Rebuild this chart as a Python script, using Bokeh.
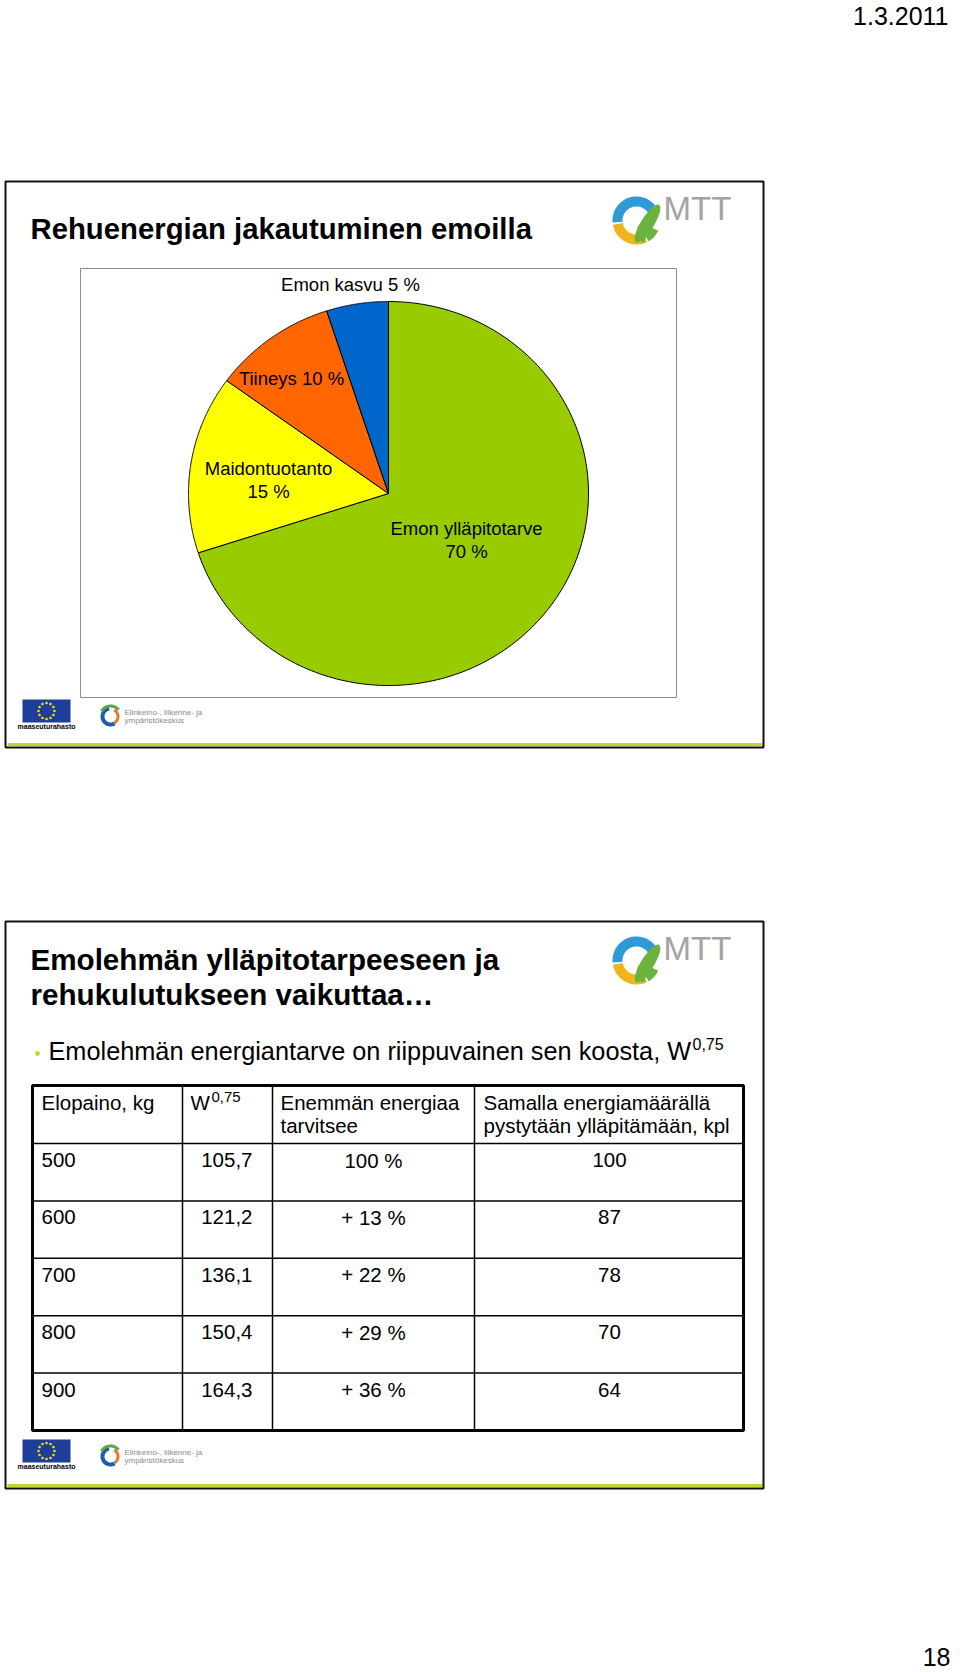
import numpy as np
from bokeh.plotting import figure
from bokeh.models import Range1d
from bokeh.core.properties import value
from bokeh.embed import file_html
from bokeh.resources import INLINE

# ---------------- data ----------------
pie_labels = ["Emon ylläpitotarve", "Maidontuotanto", "Tiineys", "Emon kasvu"]
pie_values = [70, 15, 10, 5]
pie_colors = ["#99CC00", "#FFFF00", "#FF6600", "#0066CC"]

header_line1 = ["Elopaino, kg", "W", "Enemmän energiaa", "Samalla energiamäärällä"]
header_line2 = ["", "", "tarvitsee", "pystytään ylläpitämään, kpl"]
weights = [500, 600, 700, 800, 900]
w075 = ["105,7", "121,2", "136,1", "150,4", "164,3"]
more_energy = ["100 %", "+ 13 %", "+ 22 %", "+ 29 %", "+ 36 %"]
cows_kept = [100, 87, 78, 70, 64]

title1 = "Rehuenergian jakautuminen emoilla"
title2 = ["Emolehmän ylläpitotarpeeseen  ja", "rehukulutukseen vaikuttaa…"]
bullet = "Emolehmän energiantarve on riippuvainen sen koosta, W"
date_txt = "1.3.2011"
page_no = "18"

# ---------------- layout ----------------
FONT = "Liberation Sans"
W, H = 960, 1672
LIME = "#C5D52E"

p = figure(width=W, height=H, x_range=Range1d(0, W), y_range=Range1d(H, 0),
           output_backend="svg", toolbar_location=None, x_axis_type=None, y_axis_type=None,
           min_border=0, min_border_left=0, min_border_right=0, min_border_top=0,
           min_border_bottom=0, outline_line_color=None)
p.background_fill_color = "white"
p.border_fill_color = "white"


def txt(x, y, s, size, align="left", bold=False, color="black"):
    p.text(x=[x], y=[y], text=[s], text_font=value(FONT), text_font_size=f"{size}px",
           text_align=align, text_baseline="middle", text_color=color,
           text_font_style="bold" if bold else "normal")


def arc_poly(cx, cy, r_out, r_in, a0, a1, n=40):
    t = np.radians(np.linspace(a0, a1, n))
    xo = cx + r_out * np.cos(t)
    yo = cy - r_out * np.sin(t)
    xi = cx + r_in * np.cos(t[::-1])
    yi = cy - r_in * np.sin(t[::-1])
    return list(np.concatenate([xo, xi])), list(np.concatenate([yo, yi]))


def ellipse_poly(cx, cy, a, b, phi, n=40):
    t = np.linspace(0, 2 * np.pi, n)
    f = np.radians(phi)
    x = cx + a * np.cos(t) * np.cos(f) - b * np.sin(t) * np.sin(f)
    y = cy - (a * np.cos(t) * np.sin(f) + b * np.sin(t) * np.cos(f))
    return list(x), list(y)


def mtt_logo(cx, cy):
    xs, ys, cs = [], [], []
    for a0, a1, c in [(25, 185, "#2E9AD8"), (190, 296, "#F2B41E"), (300, 335, "#6BB33E")]:
        x, y = arc_poly(cx, cy, 24, 14, a0, a1)
        xs.append(x); ys.append(y); cs.append(c)
    x, y = ellipse_poly(cx + 11, cy + 3, 22, 6.5, 58)
    xs.append(x); ys.append(y); cs.append("#6BB33E")
    x, y = ellipse_poly(cx + 5, cy + 13, 9, 4, 100)
    xs.append(x); ys.append(y); cs.append("#6BB33E")
    p.patches(xs, ys, fill_color=cs, line_color=None)
    txt(cx + 27, cy - 12, "MTT", 33, color="#A3A3A3")


def footer_logos(oy):
    p.quad(left=[22], right=[70], top=[oy], bottom=[oy + 23], fill_color="#1D3F98", line_color=None)
    t = np.radians(np.arange(12) * 30)
    p.scatter(x=46 + 8 * np.cos(t), y=oy + 11.5 - 8 * np.sin(t), size=2.5, marker="asterisk",
              line_color="#FFDD00", line_width=1)
    txt(46, oy + 27, "maaseuturahasto", 7, align="center", bold=True)
    xs, ys, cs = [], [], []
    for r_o, r_i, a0, a1, c in [(10, 6, 100, 300, "#1C5FA6"), (9, 6, -60, 60, "#E8782A"),
                                (12, 9, 40, 150, "#5BA845")]:
        x, y = arc_poly(110, oy + 17, r_o, r_i, a0, a1)
        xs.append(x); ys.append(y); cs.append(c)
    p.patches(xs, ys, fill_color=cs, line_color=None)
    txt(124, oy + 13, "Elinkeino-, liikenne- ja", 8, color="#8A8A8A")
    txt(124, oy + 21, "ympäristökeskus", 8, color="#8A8A8A")


def slide_frame(top, bottom):
    p.segment(x0=[7], y0=[bottom - 3], x1=[762], y1=[bottom - 3], line_color=LIME, line_width=3)
    p.quad(left=[5], right=[763], top=[top], bottom=[bottom], fill_color=None,
           line_color="#111111", line_width=2)


# ---------------- page header / footer ----------------
txt(948, 15, date_txt, 25, align="right")
txt(950, 1656, page_no, 25, align="right")

# ---------------- slide 1 ----------------
slide_frame(181, 747)
txt(30, 228, title1, 29.3, bold=True)
mtt_logo(636, 220)
footer_logos(699)

# chart area
p.quad(left=[80], right=[676], top=[268], bottom=[697], fill_color="white",
       line_color="#8C8C8C", line_width=1)

cx, cy, rx, ry = 388, 493, 200, 192
vals = np.array(pie_values, dtype=float)
frac = vals / vals.sum()
cum = np.concatenate([[0], np.cumsum(frac)])
xs, ys = [], []
for i in range(len(vals)):
    a0 = 90 - 360 * cum[i]
    a1 = 90 - 360 * cum[i + 1]
    t = np.radians(np.linspace(a0, a1, 200))
    xs.append([cx] + list(cx + rx * np.cos(t)))
    ys.append([cy] + list(cy - ry * np.sin(t)))
p.patches(xs, ys, fill_color=pie_colors, line_color="black", line_width=1)

# label anchors (offset from pie centre) and whether the value goes on a 2nd line
label_layout = [(78, 35, True), (-120, -25, True), (-97, -115, False), (-38, -209, False)]
for name, v, (dx, dy, two) in zip(pie_labels, pie_values, label_layout):
    if two:
        txt(cx + dx, cy + dy, name, 18.5, align="center")
        txt(cx + dx, cy + dy + 23, f"{v} %", 18.5, align="center")
    else:
        txt(cx + dx, cy + dy, f"{name} {v} %", 18.5, align="center")

# ---------------- slide 2 ----------------
slide_frame(921, 1488)
txt(30, 959, title2[0], 29.6, bold=True)
txt(30, 994, title2[1], 29.6, bold=True)
mtt_logo(636, 960)
footer_logos(1439)

p.scatter(x=[37], y=[1053], size=4, color=LIME)
txt(48, 1050, bullet, 25.3)
txt(692, 1043, "0,75", 16)

# table
col_x = [32, 182, 272, 474, 743]
t_top, h_bot, t_bot = 1085, 1143, 1430
n = len(weights)
row_h = (t_bot - h_bot) / n
row_tops = [h_bot + i * row_h for i in range(n)]

p.segment(x0=col_x[1:-1], y0=[t_top] * 3, x1=col_x[1:-1], y1=[t_bot] * 3,
          line_color="black", line_width=1.5)
p.segment(x0=[col_x[0]] * n, y0=row_tops, x1=[col_x[-1]] * n, y1=row_tops,
          line_color="black", line_width=1.5)
p.quad(left=[col_x[0]], right=[col_x[-1]], top=[t_top], bottom=[t_bot], fill_color=None,
       line_color="black", line_width=3)

FS = 20.5
hx = [41, 190, 280, 483]
for i in range(4):
    txt(hx[i], 1102, header_line1[i], FS)
    if header_line2[i]:
        txt(hx[i], 1125, header_line2[i], FS)
txt(211, 1096, "0,75", 15)

ys_rows = [rt + 16.5 for rt in row_tops]
p.text(x=[41] * n, y=ys_rows, text=[str(w) for w in weights], text_font=value(FONT),
       text_font_size=f"{FS}px", text_baseline="middle", text_align="left")
p.text(x=[252] * n, y=ys_rows, text=w075, text_font=value(FONT),
       text_font_size=f"{FS}px", text_baseline="middle", text_align="right")
p.text(x=[373] * n, y=ys_rows, text=more_energy, text_font=value(FONT),
       text_font_size=f"{FS}px", text_baseline="middle", text_align="center")
p.text(x=[609] * n, y=ys_rows, text=[str(c) for c in cows_kept], text_font=value(FONT),
       text_font_size=f"{FS}px", text_baseline="middle", text_align="center")

open("out.html", "w").write(file_html(p, INLINE))
